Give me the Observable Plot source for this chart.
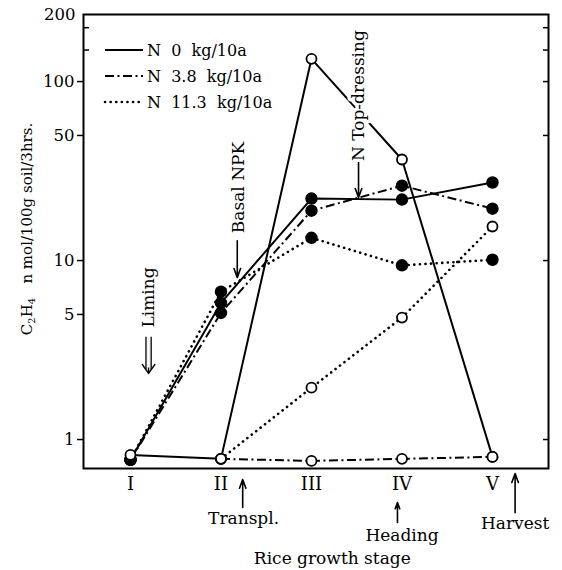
<!DOCTYPE html>
<html><head><meta charset="utf-8">
<script src="https://cdn.jsdelivr.net/npm/d3@7"></script>
<script src="https://cdn.jsdelivr.net/npm/@observablehq/plot@0.6"></script>
<style>
body{margin:0;background:#fff}
svg{font-family:"DejaVu Serif",serif}
</style>
</head><body><div id="chart"></div>
<script>
// ---- data ----
const stages = [1, 2, 3, 4, 5];
const stageLabels = ["I", "II", "III", "IV", "V"];
const seriesNames = ["N 0 kg/10a", "N 3.8 kg/10a", "N 11.3 kg/10a"];
// filled circles
const filledN0   = [0.77, 5.8, 22.2, 21.9, 27.3];
const filledN38  = [0.77, 5.1, 19.0, 26.2, 19.5];
const filledN113 = [0.77, 6.7, 13.4, 9.4, 10.1];
// open circles
const openN0   = [0.82, 0.78, 134, 36.7, 0.80];
const openN38  = [null, 0.78, 0.76, 0.78, 0.80];
const openN113 = [null, 0.78, 1.95, 4.8, 15.5];
// y axis ticks
const yTickValues = [1, 5, 10, 50, 100];
const yMinorLeft = [150, 200];
const yTicksRight = [1, 10, 50, 100, 150, 200];
const yTopLabel = "200";
const yTitle = "n mol/100g soil/3hrs.";
const xTitle = "Rice growth stage";
// annotations
const annotTexts = [
  {label: "Transpl.", stage: 2.25, value: 0.362, rotate: 0},
  {label: "Heading", stage: 4.0, value: 0.291, rotate: 0},
  {label: "Harvest", stage: 5.25, value: 0.339, rotate: 0},
  {label: "Basal NPK", stage: 2.19, value: 25.6, rotate: -90},
  {label: "Liming", stage: 1.2, value: 6.22, rotate: -90},
  {label: "N Top-dressing", stage: 3.52, value: 83.5, rotate: -90}
];
const annotArrows = [
  {stage: 2.24, from: 0.417, to: 0.598},
  {stage: 3.95, from: 0.344, to: 0.445},
  {stage: 5.25, from: 0.39, to: 0.646},
  {stage: 2.18, from: 12.9, to: 8.03},
  {stage: 3.52, from: 35.3, to: 22.5}
];
const limingArrow = {stage: 1.2, from: 3.57, to: 2.34};
const xTitlePos = {stage: 3.23, value: 0.216};

// scale extents
const xDomain = [0.481, 5.619];
const yDomain = [0.689, 237];

// ---- build rows ----
const rows = [];
function add(vals, series, marker) {
  vals.forEach((v, i) => { if (v != null) rows.push({stage: stages[i], value: v, series, marker, group: series + "|" + marker}); });
}
add(filledN0, seriesNames[0], "filled");
add(filledN38, seriesNames[1], "filled");
add(filledN113, seriesNames[2], "filled");
add(openN0, seriesNames[0], "open");
add(openN38, seriesNames[1], "open");
add(openN113, seriesNames[2], "open");

const styles = {
  [seriesNames[0]]: {dash: null, width: 2, cap: "butt"},
  [seriesNames[1]]: {dash: "9,3.5,2,3.5", width: 2, cap: "butt"},
  [seriesNames[2]]: {dash: "0.1,5.5", width: 2.6, cap: "round"}
};

const lineMarks = seriesNames.map(s => Plot.line(rows.filter(d => d.series === s), {
  x: "stage", y: "value", z: "group", stroke: "black",
  strokeWidth: styles[s].width, strokeDasharray: styles[s].dash, strokeLinecap: styles[s].cap
}));

const noText = () => "";

const plot = Plot.plot({
  width: 562, height: 570,
  marginLeft: 83, marginRight: 14, marginTop: 14, marginBottom: 102,
  x: {domain: xDomain},
  y: {type: "log", domain: yDomain},
  style: {fontFamily: "DejaVu Serif", fontSize: "16px", color: "black", background: "white"},
  marks: [
    Plot.axisY(yTickValues, {anchor: "left", tickSize: 6, tickPadding: 3, fontSize: 16.5, label: null, strokeWidth: 1.5, tickFormat: d => String(d)}),
    Plot.axisY([yDomain[1]], {anchor: "left", tickSize: 0, tickPadding: 8, fontSize: 16.5, label: null, tickFormat: () => yTopLabel}),
    Plot.axisY(yMinorLeft, {anchor: "left", tickSize: 6, dx: 6, strokeWidth: 1.5, label: null, tickFormat: noText}),
    Plot.axisY(yTicksRight, {anchor: "right", tickSize: 6, dx: -6, strokeWidth: 1.5, label: null, tickFormat: noText}),
    Plot.axisX(stages, {tickSize: 0, tickPadding: 9, fontSize: 18, label: null, tickFormat: d => stageLabels[d - 1]}),
    ...lineMarks,
    Plot.dot(rows.filter(d => d.marker === "filled"), {x: "stage", y: "value", r: 5.5, fill: "black", stroke: "black"}),
    Plot.dot(rows.filter(d => d.marker === "open"), {x: "stage", y: "value", r: 5, fill: "white", stroke: "black", strokeWidth: 1.8}),
    Plot.arrow(annotArrows, {x: "stage", y1: "from", y2: "to", stroke: "black", strokeWidth: 1.6, headLength: 9, headAngle: 40}),
    // liming double arrow
    Plot.arrow([limingArrow], {x: "stage", y1: "from", y2: "to", stroke: "black", strokeWidth: 1.4, headLength: 13, headAngle: 70}),
    Plot.link([limingArrow], {x1: "stage", x2: "stage", y1: "from", y2: "to", stroke: "white", strokeWidth: 2.4, strokeLinecap: "butt", dy: -6}),
    Plot.link([limingArrow], {x1: "stage", x2: "stage", y1: "from", y2: "to", stroke: "black", strokeWidth: 1.3, dx: -2.6, dy: -4}),
    Plot.link([limingArrow], {x1: "stage", x2: "stage", y1: "from", y2: "to", stroke: "black", strokeWidth: 1.3, dx: 2.6, dy: -4}),
    Plot.text(annotTexts, {x: "stage", y: "value", text: "label", rotate: "rotate", fontSize: 17, fill: "black", stroke: "white", strokeWidth: 7, paintOrder: "stroke"}),
    Plot.text([xTitlePos], {x: "stage", y: "value", text: () => xTitle, fontSize: 17, fill: "black"}),
    Plot.frame({stroke: "black", strokeWidth: 2})
  ]
});

// legend and y title (layout, drawn into the same svg)
const svg = d3.select(plot);
const legendRowsY = [50, 76, 102];
const lg = svg.append("g");
seriesNames.forEach((s, i) => {
  lg.append("line").attr("x1", 105).attr("x2", 143).attr("y1", legendRowsY[i]).attr("y2", legendRowsY[i])
    .attr("stroke", "black").attr("stroke-width", styles[s].width)
    .attr("stroke-dasharray", styles[s].dash).attr("stroke-linecap", styles[s].cap);
  lg.append("text").attr("x", 147).attr("y", legendRowsY[i]).attr("dy", "0.36em")
    .attr("text-anchor", "start").attr("font-size", 16).attr("fill", "black")
    .attr("xml:space", "preserve").style("white-space", "pre")
    .text(s.replace(/ /g, "  "));
});
const yt = svg.append("text").attr("transform", "translate(27,229) rotate(-90)")
  .attr("text-anchor", "middle").attr("dy", "0.35em").attr("font-size", 15).attr("fill", "black")
  .style("white-space", "pre");
yt.append("tspan").text("C");
yt.append("tspan").attr("font-size", 10).attr("dy", 3).text("2");
yt.append("tspan").attr("dy", -3).text("H");
yt.append("tspan").attr("font-size", 10).attr("dy", 3).text("4");
yt.append("tspan").attr("dy", -3).text("   " + yTitle);

document.getElementById("chart").appendChild(plot);
</script>
</body></html>
